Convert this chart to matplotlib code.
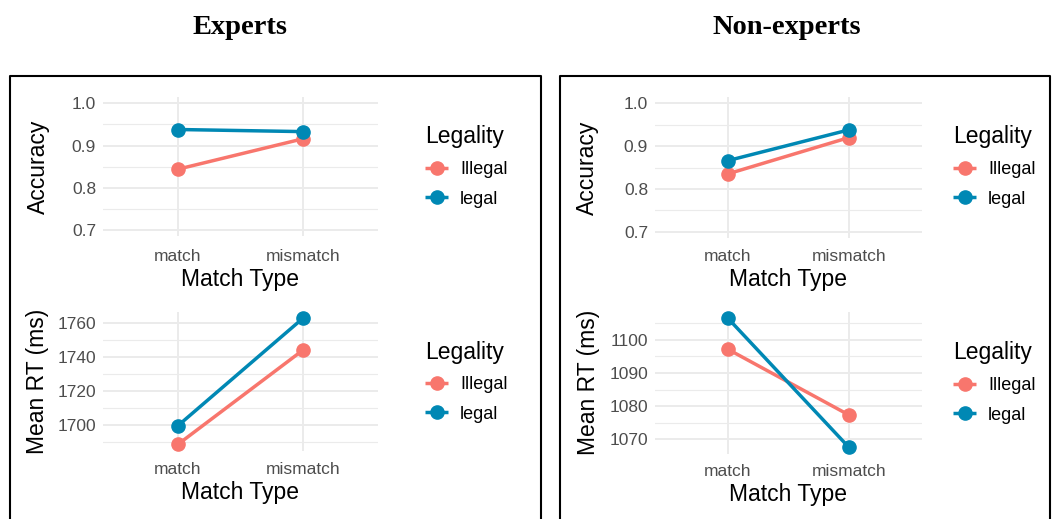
import numpy as np
import matplotlib.pyplot as plt
from matplotlib.lines import Line2D

plt.rcParams['font.family'] = ['Liberation Sans', 'DejaVu Sans']

match_types = ['match', 'mismatch']
groups = ['Illegal', 'legal']
colors = {'Illegal': '#F8766D', 'legal': '#0088B4'}

# experts
exp_acc_illegal = [0.844, 0.916]
exp_acc_legal = [0.938, 0.933]
exp_rt_illegal = [1688.6, 1744.2]
exp_rt_legal = [1699.6, 1763.0]

# non-experts
non_acc_illegal = [0.835, 0.920]
non_acc_legal = [0.866, 0.938]
non_rt_illegal = [1097.2, 1077.3]
non_rt_legal = [1106.6, 1067.5]

W, H = 1053, 519
fig = plt.figure(figsize=(W / 100, H / 100), dpi=100)


def px_axes(x0, y0, x1, y1):
    return fig.add_axes([x0 / W, 1 - y1 / H, (x1 - x0) / W, (y1 - y0) / H])


def panel(ax, box, illegal, legal, ylabel, yticks, minors, ylim, ylab_x,
          leg_xy, xpad):
    x0, y0, x1, y1 = box
    ax.set_xlim(-0.6, 1.6)
    ax.set_ylim(*ylim)
    for s in ax.spines.values():
        s.set_visible(False)
    for y in minors:
        ax.axhline(y, color='#EBEBEB', lw=0.8, zorder=0)
    for y in yticks:
        ax.axhline(y, color='#EBEBEB', lw=1.4, zorder=0)
    for x in range(len(match_types)):
        ax.axvline(x, color='#EBEBEB', lw=1.4, zorder=0)
    xs = np.arange(len(match_types))
    for g, vals in zip(groups, [illegal, legal]):
        ax.plot(xs, vals, color=colors[g], lw=2.5, marker='o', ms=9.5,
                label=g, solid_capstyle='butt', zorder=3, clip_on=False)
    ax.set_xticks(xs)
    ax.set_xticklabels(match_types)
    ax.set_yticks(yticks)
    ax.tick_params(length=0, labelsize=12.5, labelcolor='#4D4D4D')
    ax.tick_params(axis='y', pad=5)
    ax.tick_params(axis='x', pad=xpad)
    ax.set_xlabel('Match Type', fontsize=16.5, labelpad=3)
    ax.set_ylabel(ylabel, fontsize=16.5)
    ax.yaxis.set_label_coords((ylab_x - x0) / (x1 - x0), 0.5)
    ax.legend(title='Legality', loc='upper left',
              bbox_to_anchor=(leg_xy[0] / W, 1 - leg_xy[1] / H),
              bbox_transform=fig.transFigure, frameon=False,
              fontsize=13, title_fontsize=16.5, handlelength=1.3,
              handletextpad=0.65, labelspacing=0.7, borderpad=0,
              borderaxespad=0, alignment='left')
    return ax


def rt_lim(a, b):
    lo = min(a + b)
    hi = max(a + b)
    pad = 0.05 * (hi - lo)
    return lo - pad, hi + pad


acc_ticks = [0.7, 0.8, 0.9, 1.0]
acc_minor = [0.75, 0.85, 0.95]

b1 = (103, 97, 378, 236.3)
panel(px_axes(*b1), b1, exp_acc_illegal, exp_acc_legal, 'Accuracy',
      acc_ticks, acc_minor, (0.685, 1.015), 50, (425, 125.5), 9)

b2 = (103, 311.9, 378, 450.6)
panel(px_axes(*b2), b2, exp_rt_illegal, exp_rt_legal, 'Mean RT (ms)',
      [1700, 1720, 1740, 1760], [1690, 1710, 1730, 1750],
      rt_lim(exp_rt_illegal, exp_rt_legal), 49, (425, 340.5), 8)

b3 = (655, 96.9, 921.7, 238.1)
panel(px_axes(*b3), b3, non_acc_illegal, non_acc_legal, 'Accuracy',
      acc_ticks, acc_minor, (0.685, 1.015), 599, (953, 125.5), 7.5)

b4 = (655, 311.6, 921.7, 453.9)
panel(px_axes(*b4), b4, non_rt_illegal, non_rt_legal, 'Mean RT (ms)',
      [1070, 1080, 1090, 1100], [1075, 1085, 1095, 1105],
      rt_lim(non_rt_illegal, non_rt_legal), 600, (953, 341.5), 7)

# frames around the two groups
for x0, x1 in [(10, 541), (560, 1050)]:
    xs = [x0 / W, x0 / W, x1 / W, x1 / W]
    ys = [-0.05, 1 - 76 / H, 1 - 76 / H, -0.05]
    fig.add_artist(Line2D(xs, ys, color='black', lw=1.5,
                          transform=fig.transFigure))

fig.text(240 / W, 1 - 28 / H, 'Experts', ha='center', va='center',
         fontsize=20.5, fontweight='bold', family='Liberation Serif')
fig.text(787 / W, 1 - 28 / H, 'Non-experts', ha='center', va='center',
         fontsize=20.5, fontweight='bold', family='Liberation Serif')

fig.savefig('out.png', dpi=100, facecolor='white')
